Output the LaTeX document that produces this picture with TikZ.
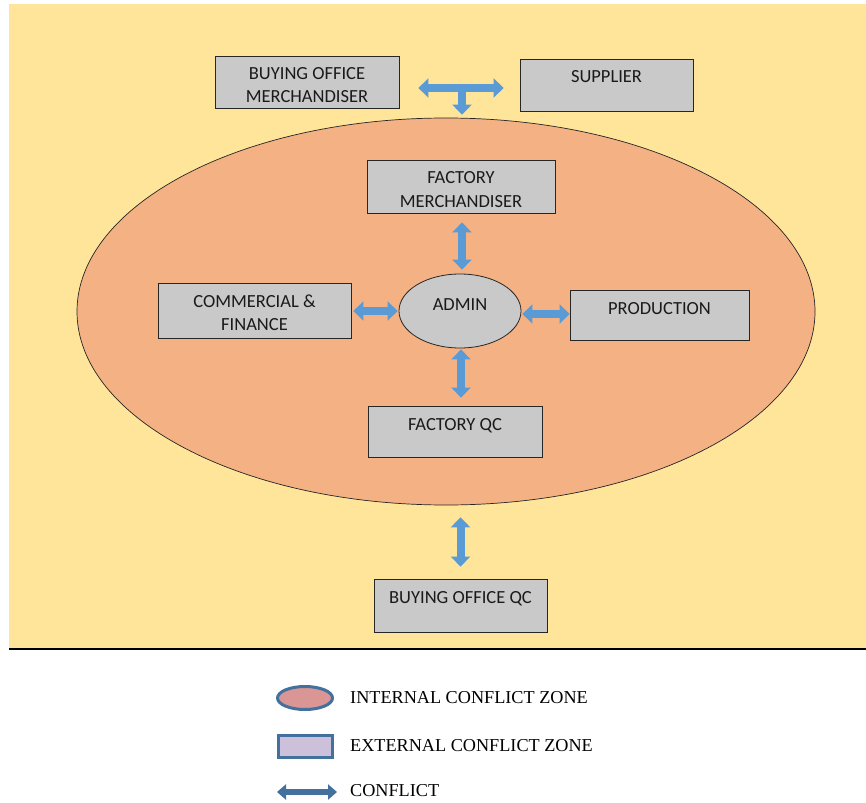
\documentclass[tikz,border=0pt]{standalone}
\usepackage{fontspec}
\setmainfont{Liberation Serif}
\newfontfamily\boxfont{Carlito}
\usetikzlibrary{arrows.meta,shapes.geometric,calc}
\definecolor{bgyellow}{HTML}{FFE599}
\definecolor{zoneorange}{HTML}{F4B183}
\definecolor{boxgray}{HTML}{C9C9C9}
\definecolor{arrowblue}{HTML}{5B9BD5}
\definecolor{legblue}{HTML}{41719C}
\definecolor{legpink}{HTML}{DA9694}
\definecolor{leglilac}{HTML}{CCC0DA}
\definecolor{txtgray}{HTML}{1A1A1A}
\newcommand{\boxlbl}[3]{\parbox[c][#2][t]{#1}{\centering\baselineskip=23pt\rule{0pt}{24pt}#3\par}}
\tikzset{
  gbox/.style={draw=black!85, line width=0.8pt, fill=boxgray, inner sep=0pt,
    font=\boxfont\fontsize{18.5}{22}\selectfont, text=txtgray},
  conflict/.style={draw=arrowblue, line width=8pt,
    {Triangle[width=19pt,length=10pt]}-{Triangle[width=19pt,length=10pt]}},
  oneway/.style={draw=arrowblue, line width=8pt, -{Triangle[width=19pt,length=10pt]}},
  legtext/.style={anchor=west, inner sep=0pt, font=\fontsize{18.2}{21}\selectfont, text=black},
}
\begin{document}
\begin{tikzpicture}[x=1pt,y=-1pt]
\useasboundingbox (0,0) rectangle (866,802);
\fill[white] (0,0) rectangle (866,802);
\fill[bgyellow] (9,4) rectangle (866,648);
\draw[black, line width=1.2pt] (9,649) -- (866,649);

% internal zone
\node[ellipse, draw=black!85, line width=0.7pt, fill=zoneorange,
  minimum width=738pt, minimum height=387pt, inner sep=0pt] (zone) at (446,311.5) {};

% boxes
\node[gbox] (bom) at (307,82) {\boxlbl{184pt}{52pt}{BUYING OFFICE\\MERCHANDISER}};
\node[gbox] (sup) at (606.5,85) {\boxlbl{173pt}{52pt}{SUPPLIER}};
\node[gbox] (fm) at (461,186.5) {\boxlbl{188pt}{53pt}{FACTORY\\MERCHANDISER}};
\node[gbox] (cf) at (254.5,310.5) {\boxlbl{193pt}{55pt}{COMMERCIAL \&\\FINANCE}};
\node[gbox] (prod) at (659.5,315) {\boxlbl{179pt}{50pt}{PRODUCTION}};
\node[gbox] (fqc) at (455,431.5) {\boxlbl{174pt}{51pt}{FACTORY QC}};
\node[gbox] (boqc) at (460.5,605.5) {\boxlbl{173pt}{53pt}{BUYING OFFICE QC}};
\node[gbox, ellipse, minimum width=122pt, minimum height=74pt] (admin) at (460,311)
  {\raisebox{12pt}{ADMIN}};

% connectors
\coordinate (tl) at ($(bom.east)+(19,6)$);
\coordinate (tr) at ($(sup.west)+(-16,3)$);
\coordinate (tm) at (462,88);
\draw[conflict] (tl) -- (tr);
\draw[oneway] (tm) -- (tm |- zone.north) [shorten >=3pt];
\draw[conflict, shorten <=9pt, shorten >=4pt] (fm.south -| 462,0) -- (admin.north -| 462,0);
\draw[conflict, shorten <=1pt, shorten >=8pt] (admin.south -| 461,0) -- (fqc.north -| 461,0);
\draw[conflict, shorten <=2pt, shorten >=1pt] (cf.east |- admin.west) -- (admin.west);
\draw[conflict, shorten <=1pt] ($(admin.east)+(0,3)$) -- ($(admin.east -| prod.west)+(0,3)$);
\draw[conflict, shorten <=12pt, shorten >=12pt] (boqc.north |- zone.south) -- (boqc.north);

% legend
\node[ellipse, draw=legblue, line width=3pt, fill=legpink, minimum width=55pt,
  minimum height=23pt, inner sep=0pt] (lgint) at (305,698) {};
\node[rectangle, draw=legblue, line width=3pt, fill=leglilac, minimum width=54pt,
  minimum height=22pt, inner sep=0pt] (lgext) at (305,746) {};
\coordinate (la) at (277,792);
\coordinate (lb) at (337,792);
\draw[draw=legblue, line width=6pt, {Triangle[width=15pt,length=9pt]}-{Triangle[width=15pt,length=9pt]}] (la) -- (lb);
\node[legtext] (t1) at (350,698) {INTERNAL CONFLICT ZONE};
\node[legtext] (t2) at (350,746) {EXTERNAL CONFLICT ZONE};
\node[legtext] (t3) at (350,791) {CONFLICT};
\end{tikzpicture}
\end{document}
